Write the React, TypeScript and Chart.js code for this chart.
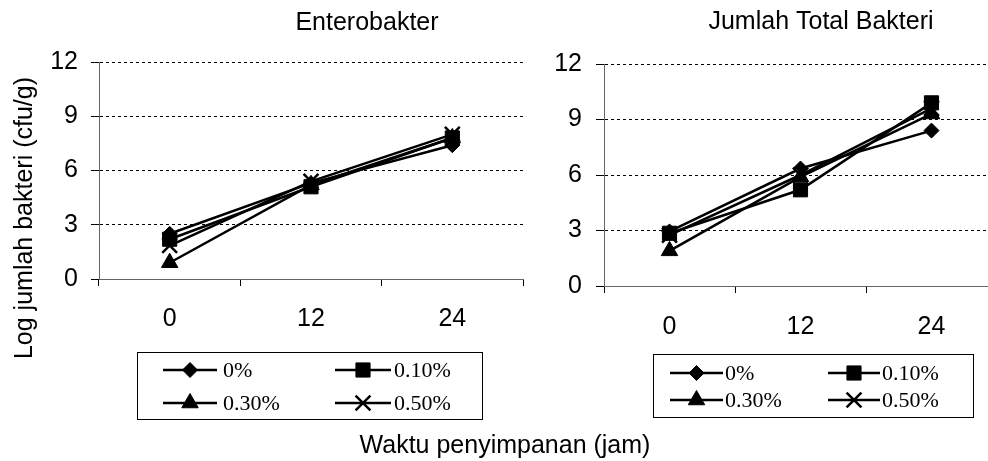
import React, { useEffect, useRef } from 'react';
import { Chart, registerables } from 'chart.js';
import { drawPoint } from 'chart.js/helpers';

Chart.register(...registerables);

// Storage time (hours) on the x axis
const hours = ['0', '12', '24'];
// Treatment concentrations
const seriesLabels = ['0%', '0.10%', '0.30%', '0.50%'];

// Enterobakter, log cfu/g
const entero0 = [2.5, 5.3, 7.4];
const entero010 = [2.2, 5.1, 7.8];
const entero030 = [0.9, 5.2, 7.8];
const entero050 = [1.85, 5.4, 8.0];

// Jumlah total bakteri, log cfu/g
const total0 = [2.95, 6.35, 8.4];
const total010 = [2.85, 5.2, 9.9];
const total030 = [1.9, 5.9, 9.3];
const total050 = [2.75, 6.0, 9.6];

const yMin = 0;
const yMax = 12;
const yStep = 3;

const SANS = "'Liberation Sans', Arial, sans-serif";
const SERIF = "'Liberation Serif', 'Times New Roman', serif";

type Marker = { pointStyle: string; radius: number; borderWidth: number };
const markers: Marker[] = [
  { pointStyle: 'rectRot', radius: 7.5, borderWidth: 1 },
  { pointStyle: 'rect', radius: 10, borderWidth: 1 },
  { pointStyle: 'triangle', radius: 9.5, borderWidth: 1 },
  { pointStyle: 'crossRot', radius: 10.5, borderWidth: 2.5 },
];

function makeDatasets(values: number[][]) {
  return values.map((data, i) => ({
    label: seriesLabels[i],
    data,
    borderColor: '#000',
    backgroundColor: '#000',
    borderWidth: 2.5,
    pointStyle: markers[i].pointStyle as any,
    pointRadius: markers[i].radius,
    pointHoverRadius: markers[i].radius,
    pointBorderWidth: markers[i].borderWidth,
    pointBackgroundColor: '#000',
    pointBorderColor: '#000',
    tension: 0,
    order: 4 - i,
  }));
}

type TextItem = { text: string; x: number; y: number; rotate?: boolean; font: string };
type LegendSpec = {
  box: { x: number; y: number; w: number; h: number };
  rows: number[];
  cols: { x1: number; x2: number; tx: number }[];
};

// Draws panel captions and a framed two-column legend
const panelText = {
  id: 'panelText',
  afterDraw(chart: any, _args: any, opts: any) {
    const ctx: CanvasRenderingContext2D = chart.ctx;
    ctx.save();
    ctx.fillStyle = '#000';
    ctx.textAlign = 'center';
    ctx.textBaseline = 'middle';
    (opts.texts as TextItem[]).forEach((t) => {
      ctx.save();
      ctx.font = t.font;
      ctx.translate(t.x, t.y);
      if (t.rotate) ctx.rotate(-Math.PI / 2);
      ctx.fillText(t.text, 0, 0);
      ctx.restore();
    });

    const lg: LegendSpec = opts.legend;
    if (lg) {
      ctx.strokeStyle = '#000';
      ctx.lineWidth = 1;
      ctx.strokeRect(lg.box.x + 0.5, lg.box.y + 0.5, lg.box.w, lg.box.h);
      chart.data.datasets.forEach((ds: any, i: number) => {
        const row = Math.floor(i / 2);
        const col = lg.cols[i % 2];
        const y = lg.rows[row];
        ctx.strokeStyle = '#000';
        ctx.lineWidth = 2.5;
        ctx.beginPath();
        ctx.moveTo(col.x1, y);
        ctx.lineTo(col.x2, y);
        ctx.stroke();
        ctx.fillStyle = '#000';
        const m = markers[i];
        ctx.lineWidth = m.borderWidth;
        drawPoint(ctx, { pointStyle: m.pointStyle as any, rotation: 0, radius: m.radius, borderWidth: m.borderWidth }, (col.x1 + col.x2) / 2, y);
        ctx.font = `22px ${SERIF}`;
        ctx.textAlign = 'left';
        ctx.textBaseline = 'middle';
        ctx.fillText(ds.label, col.tx, y + 1);
      });
    }
    ctx.restore();
  },
};

function makeConfig(values: number[][], geom: any, texts: TextItem[], legend: LegendSpec) {
  return {
    type: 'line' as const,
    data: { labels: hours, datasets: makeDatasets(values) },
    plugins: [panelText],
    options: {
      responsive: false,
      animation: false as const,
      events: [],
      layout: { padding: { left: 0, right: geom.padRight, top: geom.padTop, bottom: 0 } },
      plugins: {
        legend: { display: false },
        tooltip: { enabled: false },
        title: { display: false },
        panelText: { texts, legend },
      },
      scales: {
        x: {
          type: 'category' as const,
          offset: true,
          grid: {
            offset: true,
            drawOnChartArea: false,
            drawTicks: true,
            tickLength: 7,
            tickColor: '#000',
            color: '#000',
          },
          border: { color: '#666', width: 1 },
          ticks: { color: '#000', font: { family: SANS, size: 25 }, padding: geom.xPad, maxRotation: 0 },
          afterFit: (s: any) => {
            s.height = geom.xHeight;
          },
        },
        y: {
          min: yMin,
          max: yMax,
          grid: {
            color: '#000',
            lineWidth: 1,
            drawTicks: true,
            tickLength: 8,
            tickColor: '#000',
            tickBorderDash: [],
          },
          border: { color: '#666', width: 1, dash: [3, 3] },
          ticks: { stepSize: yStep, color: '#000', font: { family: SANS, size: 25 }, padding: geom.yPad },
          afterFit: (s: any) => {
            s.width = geom.yWidth;
          },
        },
      },
    },
  };
}

export default function App() {
  const leftRef = useRef<HTMLCanvasElement>(null);
  const rightRef = useRef<HTMLCanvasElement>(null);

  useEffect(() => {
    const left = new Chart(
      leftRef.current!,
      makeConfig(
        [entero0, entero010, entero030, entero050],
        { padRight: 988 - 523, padTop: 62, xHeight: 182, yWidth: 99, xPad: 18, yPad: 13 },
        [
          { text: 'Enterobakter', x: 367, y: 23, font: `25px ${SANS}` },
          { text: 'Log jumlah bakteri (cfu/g)', x: 25, y: 218, rotate: true, font: `25px ${SANS}` },
          { text: 'Waktu penyimpanan (jam)', x: 505, y: 446, font: `25px ${SANS}` },
        ],
        {
          box: { x: 137, y: 352, w: 345, h: 67 },
          rows: [370, 403],
          cols: [
            { x1: 163, x2: 217, tx: 223 },
            { x1: 335, x2: 391, tx: 394 },
          ],
        }
      ) as any
    );
    // The right panel's plot runs slightly past the page edge, so its canvas is wider than the visible area
    const right = new Chart(
      rightRef.current!,
      makeConfig(
        [total0, total010, total030, total050],
        { padRight: 13, padTop: 64, xHeight: 175, yWidth: 64, xPad: 19, yPad: 14 },
        [{ text: 'Jumlah Total Bakteri', x: 281, y: 22, font: `25px ${SANS}` }],
        {
          box: { x: 113, y: 354, w: 320, h: 63 },
          rows: [373, 400],
          cols: [
            { x1: 130, x2: 183, tx: 185 },
            { x1: 288, x2: 340, tx: 342 },
          ],
        }
      ) as any
    );
    return () => {
      left.destroy();
      right.destroy();
    };
  }, []);

  return (
    <div
      style={{
        position: 'absolute',
        left: 0,
        top: 0,
        width: 988,
        height: 461,
        overflow: 'hidden',
        background: '#fff',
      }}
    >
      <canvas ref={leftRef} width={988} height={461} style={{ position: 'absolute', left: 0, top: 0, width: 988, height: 461 }} />
      <canvas ref={rightRef} width={470} height={461} style={{ position: 'absolute', left: 540, top: 0, width: 470, height: 461 }} />
    </div>
  );
}
